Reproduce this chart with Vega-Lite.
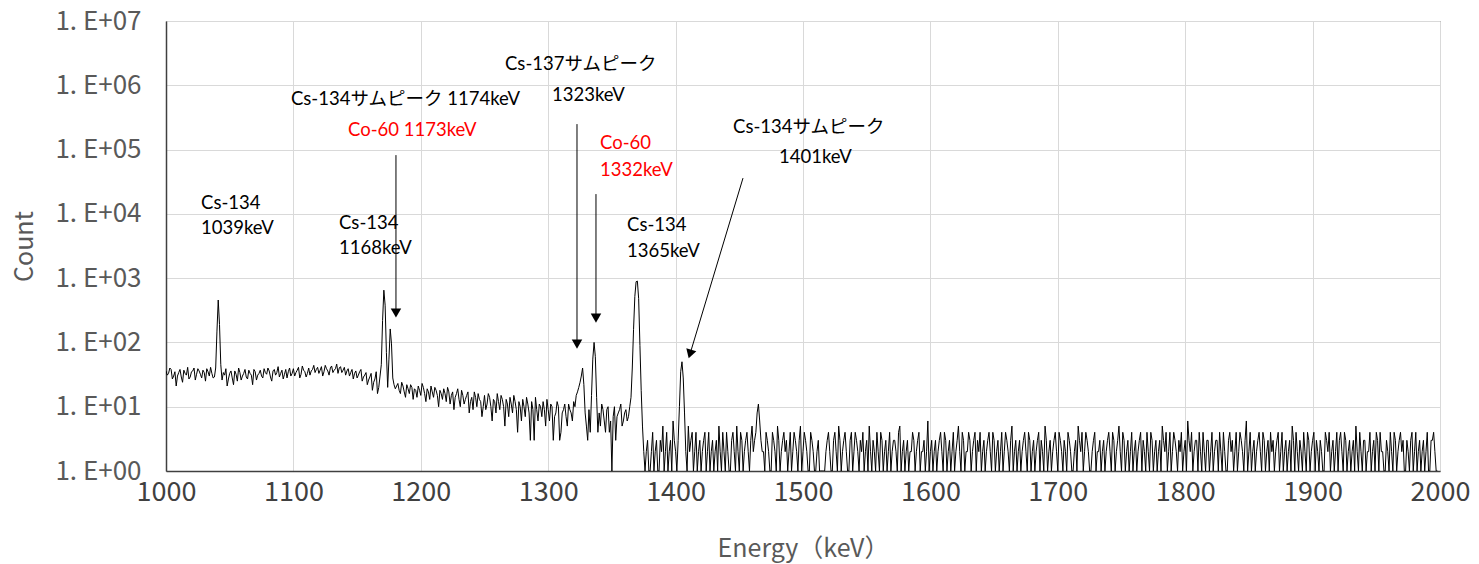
{
  "$schema": "https://vega.github.io/schema/vega-lite/v6.json",
  "width": 1274,
  "height": 450,
  "autosize": {"type": "none"},
  "padding": {"left": 166, "top": 21, "right": 39, "bottom": 93},
  "background": "white",
  "config": {"view": {"stroke": "#595959", "strokeWidth": 1}},
  "datasets": {
    "spectrum": [
      {"e":1000,"c":36},{"e":1002,"c":33},{"e":1004,"c":38},{"e":1006,"c":30},{"e":1008,"c":21},{"e":1010,"c":34},{"e":1012,"c":29},{"e":1014,"c":37},{"e":1016,"c":31},{"e":1018,"c":27},
      {"e":1020,"c":35},{"e":1022,"c":40},{"e":1024,"c":32},{"e":1026,"c":36},{"e":1028,"c":28},{"e":1030,"c":34},{"e":1032,"c":39},{"e":1034,"c":30},{"e":1036,"c":33},{"e":1038,"c":29},
      {"e":1039,"c":40},{"e":1040,"c":150},{"e":1041,"c":457},{"e":1042,"c":190},{"e":1043,"c":45},{"e":1044,"c":26},{"e":1046,"c":31},{"e":1048,"c":21},{"e":1050,"c":33},{"e":1052,"c":28},
      {"e":1054,"c":36},{"e":1056,"c":25},{"e":1058,"c":34},{"e":1060,"c":30},{"e":1062,"c":38},{"e":1064,"c":27},{"e":1066,"c":33},{"e":1068,"c":22},{"e":1070,"c":35},{"e":1072,"c":31},
      {"e":1074,"c":37},{"e":1076,"c":28},{"e":1078,"c":34},{"e":1080,"c":40},{"e":1082,"c":29},{"e":1084,"c":36},{"e":1086,"c":31},{"e":1088,"c":42},{"e":1090,"c":33},{"e":1092,"c":27},
      {"e":1094,"c":38},{"e":1096,"c":35},{"e":1098,"c":30},{"e":1100,"c":39},{"e":1102,"c":34},{"e":1104,"c":41},{"e":1106,"c":32},{"e":1108,"c":37},{"e":1110,"c":29},{"e":1112,"c":40},
      {"e":1114,"c":36},{"e":1116,"c":44},{"e":1118,"c":38},{"e":1120,"c":33},{"e":1122,"c":42},{"e":1124,"c":35},{"e":1126,"c":39},{"e":1128,"c":31},{"e":1130,"c":43},{"e":1132,"c":37},
      {"e":1134,"c":46},{"e":1136,"c":40},{"e":1138,"c":34},{"e":1140,"c":41},{"e":1142,"c":36},{"e":1144,"c":30},{"e":1146,"c":38},{"e":1148,"c":33},{"e":1150,"c":28},{"e":1152,"c":35},
      {"e":1154,"c":25},{"e":1156,"c":31},{"e":1158,"c":22},{"e":1160,"c":29},{"e":1162,"c":18},{"e":1164,"c":27},{"e":1166,"c":16},{"e":1168,"c":30},{"e":1169,"c":45},{"e":1170,"c":220},
      {"e":1171,"c":650},{"e":1172,"c":380},{"e":1173,"c":70},{"e":1174,"c":20},{"e":1175,"c":55},{"e":1176,"c":162},{"e":1177,"c":95},{"e":1178,"c":28},{"e":1179,"c":22},{"e":1180,"c":19},
      {"e":1182,"c":23},{"e":1184,"c":16},{"e":1186,"c":21},{"e":1188,"c":14},{"e":1190,"c":19},{"e":1192,"c":22},{"e":1194,"c":13},{"e":1196,"c":18},{"e":1198,"c":21},{"e":1200,"c":15},
      {"e":1202,"c":20},{"e":1204,"c":12},{"e":1206,"c":17},{"e":1208,"c":21},{"e":1210,"c":14},{"e":1212,"c":18},{"e":1214,"c":10},{"e":1216,"c":16},{"e":1218,"c":19},{"e":1220,"c":12},
      {"e":1222,"c":17},{"e":1224,"c":15},{"e":1226,"c":9},{"e":1228,"c":16},{"e":1230,"c":13},{"e":1232,"c":18},{"e":1234,"c":11},{"e":1236,"c":15},{"e":1238,"c":8},{"e":1240,"c":14},
      {"e":1242,"c":17},{"e":1244,"c":10},{"e":1246,"c":13},{"e":1248,"c":7},{"e":1250,"c":15},{"e":1252,"c":11},{"e":1254,"c":14},{"e":1256,"c":6},{"e":1258,"c":12},{"e":1260,"c":16},
      {"e":1262,"c":9},{"e":1264,"c":13},{"e":1266,"c":5},{"e":1268,"c":11},{"e":1270,"c":14},{"e":1272,"c":8},{"e":1274,"c":12},{"e":1276,"c":4},{"e":1278,"c":10},{"e":1280,"c":13},
      {"e":1282,"c":7},{"e":1284,"c":11},{"e":1286,"c":3},{"e":1288,"c":9},{"e":1290,"c":14},{"e":1292,"c":6},{"e":1294,"c":10},{"e":1296,"c":12},{"e":1298,"c":5},{"e":1300,"c":9},
      {"e":1302,"c":11},{"e":1304,"c":3},{"e":1306,"c":8},{"e":1308,"c":10},{"e":1310,"c":4},{"e":1312,"c":9},{"e":1314,"c":7},{"e":1316,"c":11},{"e":1318,"c":8},{"e":1320,"c":12},
      {"e":1322,"c":15},{"e":1324,"c":20},{"e":1326,"c":30},{"e":1327,"c":40},{"e":1328,"c":22},{"e":1329,"c":8},{"e":1330,"c":5},{"e":1332,"c":9},{"e":1333,"c":4},{"e":1334,"c":15},
      {"e":1335,"c":55},{"e":1336,"c":100},{"e":1337,"c":60},{"e":1338,"c":14},{"e":1339,"c":4},{"e":1340,"c":8},{"e":1342,"c":11},{"e":1344,"c":6},{"e":1346,"c":9},{"e":1348,"c":4},
      {"e":1350,"c":1},{"e":1352,"c":10},{"e":1354,"c":7},{"e":1356,"c":9},{"e":1358,"c":5},{"e":1360,"c":8},{"e":1362,"c":6},{"e":1364,"c":10},{"e":1365,"c":14},{"e":1366,"c":40},
      {"e":1367,"c":160},{"e":1368,"c":520},{"e":1369,"c":880},{"e":1370,"c":900},{"e":1371,"c":480},{"e":1372,"c":90},{"e":1373,"c":18},{"e":1374,"c":5},{"e":1375,"c":2},{"e":1376,"c":1},
      {"e":1378,"c":3},{"e":1380,"c":1},{"e":1382,"c":4},{"e":1384,"c":2},{"e":1386,"c":1},{"e":1388,"c":3},{"e":1390,"c":5},{"e":1392,"c":2},{"e":1394,"c":1},{"e":1396,"c":3},
      {"e":1398,"c":6},{"e":1400,"c":2},{"e":1402,"c":3},{"e":1403,"c":10},{"e":1404,"c":35},{"e":1405,"c":50},{"e":1406,"c":28},{"e":1407,"c":8},{"e":1408,"c":2},{"e":1410,"c":5},
      {"e":1412,"c":3},{"e":1414,"c":1},{"e":1416,"c":4},{"e":1418,"c":2},{"e":1420,"c":1},{"e":1422,"c":3},{"e":1424,"c":1},{"e":1426,"c":4},{"e":1428,"c":2},{"e":1430,"c":1},
      {"e":1432,"c":3},{"e":1434,"c":5},{"e":1436,"c":1},{"e":1438,"c":2},{"e":1440,"c":4},{"e":1442,"c":1},{"e":1444,"c":3},{"e":1446,"c":2},{"e":1448,"c":5},{"e":1450,"c":1},
      {"e":1452,"c":3},{"e":1454,"c":2},{"e":1456,"c":4},{"e":1458,"c":1},{"e":1460,"c":5},{"e":1462,"c":3},{"e":1464,"c":8},{"e":1465,"c":11},{"e":1466,"c":6},{"e":1468,"c":2},
      {"e":1470,"c":1},{"e":1472,"c":3},{"e":1474,"c":1},{"e":1476,"c":4},{"e":1478,"c":2},{"e":1480,"c":5},{"e":1482,"c":1},{"e":1484,"c":3},{"e":1486,"c":2},{"e":1488,"c":1},
      {"e":1490,"c":4},{"e":1492,"c":2},{"e":1494,"c":3},{"e":1496,"c":1},{"e":1498,"c":5},{"e":1500,"c":2},{"e":1502,"c":3},{"e":1504,"c":1},{"e":1506,"c":4},{"e":1508,"c":2},
      {"e":1510,"c":1},{"e":1512,"c":3},{"e":1514,"c":1},{"e":1516,"c":1},{"e":1518,"c":2},{"e":1520,"c":4},{"e":1522,"c":1},{"e":1524,"c":3},{"e":1526,"c":2},{"e":1528,"c":5},
      {"e":1530,"c":1},{"e":1532,"c":3},{"e":1534,"c":2},{"e":1536,"c":1},{"e":1538,"c":4},{"e":1540,"c":2},{"e":1542,"c":3},{"e":1544,"c":1},{"e":1546,"c":2},{"e":1548,"c":1},
      {"e":1550,"c":3},{"e":1552,"c":5},{"e":1554,"c":1},{"e":1556,"c":2},{"e":1558,"c":4},{"e":1560,"c":1},{"e":1562,"c":3},{"e":1564,"c":2},{"e":1566,"c":1},{"e":1568,"c":4},
      {"e":1570,"c":2},{"e":1572,"c":3},{"e":1574,"c":1},{"e":1576,"c":5},{"e":1578,"c":2},{"e":1580,"c":1},{"e":1582,"c":3},{"e":1584,"c":2},{"e":1586,"c":4},{"e":1588,"c":1},
      {"e":1590,"c":3},{"e":1592,"c":1},{"e":1594,"c":2},{"e":1596,"c":1},{"e":1598,"c":6},{"e":1600,"c":2},{"e":1602,"c":1},{"e":1604,"c":3},{"e":1606,"c":2},{"e":1608,"c":4},
      {"e":1610,"c":1},{"e":1612,"c":3},{"e":1614,"c":2},{"e":1616,"c":1},{"e":1618,"c":4},{"e":1620,"c":2},{"e":1622,"c":5},{"e":1624,"c":1},{"e":1626,"c":3},{"e":1628,"c":2},
      {"e":1630,"c":4},{"e":1632,"c":1},{"e":1634,"c":3},{"e":1636,"c":1},{"e":1638,"c":2},{"e":1640,"c":1},{"e":1642,"c":3},{"e":1644,"c":2},{"e":1646,"c":4},{"e":1648,"c":1},
      {"e":1650,"c":3},{"e":1652,"c":2},{"e":1654,"c":1},{"e":1656,"c":4},{"e":1658,"c":2},{"e":1660,"c":3},{"e":1662,"c":1},{"e":1664,"c":5},{"e":1666,"c":2},{"e":1668,"c":1},
      {"e":1670,"c":3},{"e":1672,"c":2},{"e":1674,"c":4},{"e":1676,"c":1},{"e":1678,"c":3},{"e":1680,"c":2},{"e":1682,"c":1},{"e":1684,"c":3},{"e":1686,"c":1},{"e":1688,"c":2},
      {"e":1690,"c":5},{"e":1692,"c":1},{"e":1694,"c":3},{"e":1696,"c":2},{"e":1698,"c":4},{"e":1700,"c":1},{"e":1702,"c":3},{"e":1704,"c":1},{"e":1706,"c":2},{"e":1708,"c":4},
      {"e":1710,"c":2},{"e":1712,"c":1},{"e":1714,"c":3},{"e":1716,"c":5},{"e":1718,"c":2},{"e":1720,"c":1},{"e":1722,"c":4},{"e":1724,"c":2},{"e":1726,"c":1},{"e":1728,"c":3},
      {"e":1730,"c":1},{"e":1732,"c":2},{"e":1734,"c":1},{"e":1736,"c":3},{"e":1738,"c":2},{"e":1740,"c":4},{"e":1742,"c":1},{"e":1744,"c":3},{"e":1746,"c":2},{"e":1748,"c":5},
      {"e":1750,"c":1},{"e":1752,"c":3},{"e":1754,"c":2},{"e":1756,"c":1},{"e":1758,"c":4},{"e":1760,"c":2},{"e":1762,"c":1},{"e":1764,"c":3},{"e":1766,"c":1},{"e":1768,"c":2},
      {"e":1770,"c":4},{"e":1772,"c":1},{"e":1774,"c":3},{"e":1776,"c":2},{"e":1778,"c":1},{"e":1780,"c":3},{"e":1782,"c":5},{"e":1784,"c":2},{"e":1786,"c":1},{"e":1788,"c":4},
      {"e":1790,"c":2},{"e":1792,"c":3},{"e":1794,"c":1},{"e":1796,"c":2},{"e":1798,"c":1},{"e":1800,"c":3},{"e":1802,"c":6},{"e":1804,"c":2},{"e":1806,"c":1},{"e":1808,"c":3},
      {"e":1810,"c":1},{"e":1812,"c":2},{"e":1814,"c":4},{"e":1816,"c":1},{"e":1818,"c":3},{"e":1820,"c":2},{"e":1822,"c":1},{"e":1824,"c":3},{"e":1826,"c":1},{"e":1828,"c":2},
      {"e":1830,"c":4},{"e":1832,"c":1},{"e":1834,"c":3},{"e":1836,"c":2},{"e":1838,"c":1},{"e":1840,"c":4},{"e":1842,"c":2},{"e":1844,"c":3},{"e":1846,"c":1},{"e":1848,"c":6},
      {"e":1850,"c":2},{"e":1852,"c":1},{"e":1854,"c":3},{"e":1856,"c":2},{"e":1858,"c":4},{"e":1860,"c":1},{"e":1862,"c":3},{"e":1864,"c":2},{"e":1866,"c":1},{"e":1868,"c":2},
      {"e":1870,"c":1},{"e":1872,"c":3},{"e":1874,"c":1},{"e":1876,"c":4},{"e":1878,"c":2},{"e":1880,"c":1},{"e":1882,"c":3},{"e":1884,"c":5},{"e":1886,"c":1},{"e":1888,"c":2},
      {"e":1890,"c":3},{"e":1892,"c":1},{"e":1894,"c":2},{"e":1896,"c":4},{"e":1898,"c":1},{"e":1900,"c":3},{"e":1902,"c":1},{"e":1904,"c":2},{"e":1906,"c":3},{"e":1908,"c":1},
      {"e":1910,"c":4},{"e":1912,"c":2},{"e":1914,"c":1},{"e":1916,"c":3},{"e":1918,"c":2},{"e":1920,"c":1},{"e":1922,"c":4},{"e":1924,"c":1},{"e":1926,"c":3},{"e":1928,"c":2},
      {"e":1930,"c":1},{"e":1932,"c":3},{"e":1934,"c":5},{"e":1936,"c":1},{"e":1938,"c":2},{"e":1940,"c":3},{"e":1942,"c":1},{"e":1944,"c":2},{"e":1946,"c":1},{"e":1948,"c":3},
      {"e":1950,"c":4},{"e":1952,"c":1},{"e":1954,"c":2},{"e":1956,"c":1},{"e":1958,"c":3},{"e":1960,"c":1},{"e":1962,"c":2},{"e":1964,"c":4},{"e":1966,"c":1},{"e":1968,"c":3},
      {"e":1970,"c":2},{"e":1972,"c":1},{"e":1974,"c":3},{"e":1976,"c":1},{"e":1978,"c":4},{"e":1980,"c":2},{"e":1982,"c":1},{"e":1984,"c":3},{"e":1986,"c":2},{"e":1988,"c":1},
      {"e":1990,"c":4},{"e":1992,"c":1},{"e":1994,"c":3},{"e":1996,"c":2},{"e":1998,"c":1},
      {"e":1001,"c":31},{"e":1003,"c":40},{"e":1005,"c":27},{"e":1007,"c":35},{"e":1009,"c":30},{"e":1011,"c":38},{"e":1013,"c":24},{"e":1015,"c":33},{"e":1017,"c":41},{"e":1019,"c":29},
      {"e":1021,"c":36},{"e":1023,"c":26},{"e":1025,"c":39},{"e":1027,"c":32},{"e":1029,"c":37},{"e":1031,"c":25},{"e":1033,"c":35},{"e":1035,"c":41},{"e":1037,"c":28},
      {"e":1045,"c":34},{"e":1047,"c":39},{"e":1049,"c":27},{"e":1051,"c":36},{"e":1053,"c":22},{"e":1055,"c":32},{"e":1057,"c":40},{"e":1059,"c":26},{"e":1061,"c":33},{"e":1063,"c":29},
      {"e":1065,"c":37},{"e":1067,"c":31},{"e":1069,"c":38},{"e":1071,"c":26},{"e":1073,"c":33},{"e":1075,"c":30},{"e":1077,"c":39},{"e":1079,"c":32},{"e":1081,"c":36},{"e":1083,"c":25},
      {"e":1085,"c":38},{"e":1087,"c":34},{"e":1089,"c":29},{"e":1091,"c":37},{"e":1093,"c":32},{"e":1095,"c":28},{"e":1097,"c":40},{"e":1099,"c":33},{"e":1101,"c":30},{"e":1103,"c":37},
      {"e":1105,"c":28},{"e":1107,"c":43},{"e":1109,"c":35},{"e":1111,"c":33},{"e":1113,"c":31},{"e":1115,"c":38},{"e":1117,"c":34},{"e":1119,"c":41},{"e":1121,"c":37},{"e":1123,"c":30},
      {"e":1125,"c":44},{"e":1127,"c":36},{"e":1129,"c":40},{"e":1131,"c":34},{"e":1133,"c":39},{"e":1135,"c":33},{"e":1137,"c":42},{"e":1139,"c":37},{"e":1141,"c":31},{"e":1143,"c":39},
      {"e":1145,"c":34},{"e":1147,"c":27},{"e":1149,"c":36},{"e":1151,"c":31},{"e":1153,"c":38},{"e":1155,"c":29},{"e":1157,"c":34},{"e":1159,"c":26},{"e":1161,"c":33},{"e":1163,"c":24},
      {"e":1165,"c":35},{"e":1167,"c":20},
      {"e":1181,"c":21},{"e":1183,"c":18},{"e":1185,"c":24},{"e":1187,"c":17},{"e":1189,"c":22},{"e":1191,"c":16},{"e":1193,"c":20},{"e":1195,"c":19},{"e":1197,"c":14},{"e":1199,"c":18},
      {"e":1201,"c":23},{"e":1203,"c":16},{"e":1205,"c":19},{"e":1207,"c":13},{"e":1209,"c":17},{"e":1211,"c":20},{"e":1213,"c":15},{"e":1215,"c":18},{"e":1217,"c":13},{"e":1219,"c":16},
      {"e":1221,"c":20},{"e":1223,"c":11},{"e":1225,"c":17},{"e":1227,"c":14},{"e":1229,"c":19},{"e":1231,"c":10},{"e":1233,"c":15},{"e":1235,"c":13},{"e":1237,"c":17},{"e":1239,"c":12},
      {"e":1241,"c":9},{"e":1243,"c":14},{"e":1245,"c":16},{"e":1247,"c":12},{"e":1249,"c":10},{"e":1251,"c":9},{"e":1253,"c":16},{"e":1255,"c":10},{"e":1257,"c":13},{"e":1259,"c":8},
      {"e":1261,"c":12},{"e":1263,"c":15},{"e":1265,"c":10},{"e":1267,"c":13},{"e":1269,"c":7},{"e":1271,"c":11},{"e":1273,"c":15},{"e":1275,"c":9},{"e":1277,"c":12},{"e":1279,"c":6},
      {"e":1281,"c":10},{"e":1283,"c":14},{"e":1285,"c":8},{"e":1287,"c":12},{"e":1289,"c":3},{"e":1291,"c":9},{"e":1293,"c":11},{"e":1295,"c":7},{"e":1297,"c":9},{"e":1299,"c":13},
      {"e":1301,"c":6},{"e":1303,"c":10},{"e":1305,"c":7},{"e":1307,"c":12},{"e":1309,"c":3},{"e":1311,"c":8},{"e":1313,"c":11},{"e":1315,"c":5},{"e":1317,"c":9},{"e":1319,"c":6},
      {"e":1321,"c":10},{"e":1323,"c":17},{"e":1325,"c":24},{"e":1331,"c":3},
      {"e":1341,"c":5},{"e":1343,"c":9},{"e":1345,"c":4},{"e":1347,"c":10},{"e":1349,"c":6},{"e":1351,"c":7},{"e":1353,"c":3},{"e":1355,"c":8},{"e":1357,"c":11},{"e":1359,"c":6},
      {"e":1361,"c":9},{"e":1363,"c":7},
      {"e":1377,"c":2},{"e":1379,"c":1},{"e":1381,"c":2},{"e":1383,"c":1},{"e":1385,"c":3},{"e":1387,"c":1},{"e":1389,"c":2},{"e":1391,"c":1},{"e":1393,"c":4},{"e":1395,"c":2},
      {"e":1397,"c":1},{"e":1399,"c":3},{"e":1401,"c":1},{"e":1409,"c":1},{"e":1411,"c":2},{"e":1413,"c":4},{"e":1415,"c":2},{"e":1417,"c":1},{"e":1419,"c":3},{"e":1421,"c":2},
      {"e":1423,"c":4},{"e":1425,"c":2},{"e":1427,"c":1},{"e":1429,"c":3},{"e":1431,"c":2},{"e":1433,"c":1},{"e":1435,"c":2},{"e":1437,"c":4},{"e":1439,"c":1},{"e":1441,"c":2},
      {"e":1443,"c":1},{"e":1445,"c":4},{"e":1447,"c":1},{"e":1449,"c":2},{"e":1451,"c":4},{"e":1453,"c":1},{"e":1455,"c":3},{"e":1457,"c":2},{"e":1459,"c":3},{"e":1461,"c":2},
      {"e":1463,"c":4},{"e":1467,"c":3},{"e":1469,"c":2},{"e":1471,"c":4},{"e":1473,"c":2},{"e":1475,"c":1},{"e":1477,"c":3},{"e":1479,"c":1},{"e":1481,"c":3},{"e":1483,"c":2},
      {"e":1485,"c":4},{"e":1487,"c":3},{"e":1489,"c":2},{"e":1491,"c":1},{"e":1493,"c":4},{"e":1495,"c":2},{"e":1497,"c":3},{"e":1499,"c":1},{"e":1501,"c":4},{"e":1503,"c":2},
      {"e":1505,"c":1},{"e":1507,"c":3},{"e":1509,"c":1},{"e":1511,"c":2},{"e":1513,"c":1},{"e":1515,"c":1},{"e":1517,"c":1},{"e":1519,"c":3},{"e":1521,"c":2},{"e":1523,"c":1},
      {"e":1525,"c":4},{"e":1527,"c":1},{"e":1529,"c":3},{"e":1531,"c":2},{"e":1533,"c":4},{"e":1535,"c":1},{"e":1537,"c":3},{"e":1539,"c":1},{"e":1541,"c":4},{"e":1543,"c":2},
      {"e":1545,"c":3},{"e":1547,"c":4},{"e":1549,"c":2},{"e":1551,"c":1},{"e":1553,"c":2},{"e":1555,"c":3},{"e":1557,"c":1},{"e":1559,"c":2},{"e":1561,"c":4},{"e":1563,"c":1},
      {"e":1565,"c":3},{"e":1567,"c":2},{"e":1569,"c":1},{"e":1571,"c":3},{"e":1573,"c":2},{"e":1575,"c":4},{"e":1577,"c":1},{"e":1579,"c":3},{"e":1581,"c":2},{"e":1583,"c":1},
      {"e":1585,"c":2},{"e":1587,"c":3},{"e":1589,"c":2},{"e":1591,"c":4},{"e":1593,"c":2},{"e":1595,"c":3},{"e":1597,"c":2},{"e":1599,"c":1},{"e":1601,"c":3},{"e":1603,"c":2},
      {"e":1605,"c":1},{"e":1607,"c":3},{"e":1609,"c":2},{"e":1611,"c":4},{"e":1613,"c":1},{"e":1615,"c":3},{"e":1617,"c":2},{"e":1619,"c":1},{"e":1621,"c":3},{"e":1623,"c":2},
      {"e":1625,"c":4},{"e":1627,"c":1},{"e":1629,"c":2},{"e":1631,"c":3},{"e":1633,"c":2},{"e":1635,"c":4},{"e":1637,"c":3},{"e":1639,"c":4},{"e":1641,"c":2},{"e":1643,"c":1},
      {"e":1645,"c":3},{"e":1647,"c":2},{"e":1649,"c":4},{"e":1651,"c":1},{"e":1653,"c":3},{"e":1655,"c":2},{"e":1657,"c":1},{"e":1659,"c":4},{"e":1661,"c":2},{"e":1663,"c":3},
      {"e":1665,"c":1},{"e":1667,"c":3},{"e":1669,"c":2},{"e":1671,"c":1},{"e":1673,"c":3},{"e":1675,"c":2},{"e":1677,"c":4},{"e":1679,"c":1},{"e":1681,"c":3},{"e":1683,"c":2},
      {"e":1685,"c":4},{"e":1687,"c":3},{"e":1689,"c":1},{"e":1691,"c":3},{"e":1693,"c":2},{"e":1695,"c":1},{"e":1697,"c":3},{"e":1699,"c":2},{"e":1701,"c":4},{"e":1703,"c":2},
      {"e":1705,"c":3},{"e":1707,"c":1},{"e":1709,"c":3},{"e":1711,"c":1},{"e":1713,"c":2},{"e":1715,"c":1},{"e":1717,"c":3},{"e":1719,"c":4},{"e":1721,"c":2},{"e":1723,"c":3},
      {"e":1725,"c":1},{"e":1727,"c":2},{"e":1729,"c":4},{"e":1731,"c":2},{"e":1733,"c":3},{"e":1735,"c":2},{"e":1737,"c":1},{"e":1739,"c":3},{"e":1741,"c":2},{"e":1743,"c":4},
      {"e":1745,"c":1},{"e":1747,"c":3},{"e":1749,"c":2},{"e":1751,"c":4},{"e":1753,"c":1},{"e":1755,"c":3},{"e":1757,"c":2},{"e":1759,"c":1},{"e":1761,"c":3},{"e":1763,"c":2},
      {"e":1765,"c":4},{"e":1767,"c":3},{"e":1769,"c":1},{"e":1771,"c":2},{"e":1773,"c":4},{"e":1775,"c":1},{"e":1777,"c":3},{"e":1779,"c":2},{"e":1781,"c":1},{"e":1783,"c":3},
      {"e":1785,"c":4},{"e":1787,"c":2},{"e":1789,"c":1},{"e":1791,"c":4},{"e":1793,"c":2},{"e":1795,"c":3},{"e":1797,"c":4},{"e":1799,"c":2},{"e":1801,"c":1},{"e":1803,"c":3},
      {"e":1805,"c":4},{"e":1807,"c":2},{"e":1809,"c":3},{"e":1811,"c":4},{"e":1813,"c":1},{"e":1815,"c":2},{"e":1817,"c":3},{"e":1819,"c":1},{"e":1821,"c":4},{"e":1823,"c":2},
      {"e":1825,"c":3},{"e":1827,"c":4},{"e":1829,"c":1},{"e":1831,"c":2},{"e":1833,"c":1},{"e":1835,"c":4},{"e":1837,"c":3},{"e":1839,"c":2},{"e":1841,"c":1},{"e":1843,"c":4},
      {"e":1845,"c":2},{"e":1847,"c":3},{"e":1849,"c":1},{"e":1851,"c":4},{"e":1853,"c":2},{"e":1855,"c":1},{"e":1857,"c":3},{"e":1859,"c":2},{"e":1861,"c":4},{"e":1863,"c":1},
      {"e":1865,"c":3},{"e":1867,"c":4},{"e":1869,"c":3},{"e":1871,"c":2},{"e":1873,"c":4},{"e":1875,"c":2},{"e":1877,"c":1},{"e":1879,"c":3},{"e":1881,"c":2},{"e":1883,"c":1},
      {"e":1885,"c":3},{"e":1887,"c":4},{"e":1889,"c":1},{"e":1891,"c":2},{"e":1893,"c":4},{"e":1895,"c":1},{"e":1897,"c":3},{"e":1899,"c":2},{"e":1901,"c":4},{"e":1903,"c":3},
      {"e":1905,"c":1},{"e":1907,"c":2},{"e":1909,"c":1},{"e":1911,"c":3},{"e":1913,"c":4},{"e":1915,"c":2},{"e":1917,"c":1},{"e":1919,"c":4},{"e":1921,"c":3},{"e":1923,"c":2},
      {"e":1925,"c":4},{"e":1927,"c":1},{"e":1929,"c":3},{"e":1931,"c":2},{"e":1933,"c":1},{"e":1935,"c":2},{"e":1937,"c":4},{"e":1939,"c":1},{"e":1941,"c":3},{"e":1943,"c":2},
      {"e":1945,"c":4},{"e":1947,"c":2},{"e":1949,"c":1},{"e":1951,"c":3},{"e":1953,"c":4},{"e":1955,"c":2},{"e":1957,"c":1},{"e":1959,"c":2},{"e":1961,"c":4},{"e":1963,"c":1},
      {"e":1965,"c":3},{"e":1967,"c":2},{"e":1969,"c":4},{"e":1971,"c":3},{"e":1973,"c":1},{"e":1975,"c":2},{"e":1977,"c":3},{"e":1979,"c":1},{"e":1981,"c":4},{"e":1983,"c":2},
      {"e":1985,"c":1},{"e":1987,"c":3},{"e":1989,"c":2},{"e":1991,"c":1},{"e":1993,"c":3},{"e":1995,"c":4},{"e":1997,"c":1}
    ],
    "arrows": [
      {"id":1,"e":1180.5,"c":287,"e0":1180.5,"c0":82000},
      {"id":2,"e":1322.6,"c":94,"e0":1322.6,"c0":249000},
      {"id":3,"e":1337.5,"c":239,"e0":1337.5,"c0":20300},
      {"id":4,"e":1411.3,"c":66,"e0":1452.9,"c0":36000}
    ],
    "labels": [
      {"e":1027.5,"c":14700,"t":"Cs-134","g":"other"},
      {"e":1027.5,"c":6010,"t":"1039keV","g":"other"},
      {"e":1098.1,"c":610000,"t":"Cs-134サムピーク 1174keV","g":"other"},
      {"e":1142.9,"c":201000,"t":"Co-60 1173keV","g":"co60"},
      {"e":1135.8,"c":7190,"t":"Cs-134","g":"other"},
      {"e":1135.8,"c":2940,"t":"1168keV","g":"other"},
      {"e":1266.1,"c":2140000,"t":"Cs-137サムピーク","g":"other"},
      {"e":1303.0,"c":705000,"t":"1323keV","g":"other"},
      {"e":1340.7,"c":126000,"t":"Co-60","g":"co60"},
      {"e":1340.7,"c":48000,"t":"1332keV","g":"co60"},
      {"e":1361.9,"c":6700,"t":"Cs-134","g":"other"},
      {"e":1361.9,"c":2640,"t":"1365keV","g":"other"},
      {"e":1445.1,"c":224000,"t":"Cs-134サムピーク","g":"other"},
      {"e":1481.2,"c":76400,"t":"1401keV","g":"other"}
    ]
  },
  "encoding": {
    "x": {
      "field": "e", "type": "quantitative",
      "scale": {"domain": [1000, 2000], "nice": false, "zero": false},
      "axis": {
        "title": "Energy（keV）",
        "values": [1000,1100,1200,1300,1400,1500,1600,1700,1800,1900,2000],
        "format": "d",
        "ticks": false,
        "labelFlush": false,
        "labelOverlap": false,
        "domainColor": "#404040", "domainWidth": 1.5,
        "gridColor": "#d9d9d9", "gridWidth": 1,
        "labelFont": "Noto Sans CJK JP", "labelFontSize": 27, "labelColor": "#404040",
        "labelPadding": 8,
        "titleFont": "Noto Sans CJK JP", "titleFontSize": 25, "titleFontWeight": "normal", "titleColor": "#595959",
        "titlePadding": 31
      }
    },
    "y": {
      "field": "c", "type": "quantitative",
      "scale": {"type": "log", "domain": [1, 10000000], "nice": false},
      "axis": {
        "title": "Count",
        "values": [1,10,100,1000,10000,100000,1000000,10000000],
        "labelExpr": "'1. E+0' + round(log(datum.value)/LN10)",
        "ticks": false,
        "labelFlush": false,
        "labelOverlap": false,
        "domainColor": "#404040", "domainWidth": 1.5,
        "gridColor": "#d9d9d9", "gridWidth": 1,
        "labelFont": "Noto Sans CJK JP", "labelFontSize": 26, "labelColor": "#595959",
        "labelPadding": 25,
        "titleFont": "Noto Sans CJK JP", "titleFontSize": 25, "titleFontWeight": "normal", "titleColor": "#595959",
        "titlePadding": 17
      }
    }
  },
  "layer": [
    {
      "data": {"name": "spectrum"},
      "mark": {"type": "line", "color": "black", "strokeWidth": 1, "clip": true},
      "encoding": {}
    },
    {
      "data": {"name": "arrows"},
      "mark": {"type": "rule", "color": "black", "strokeWidth": 1},
      "encoding": {"x2": {"field": "e0"}, "y2": {"field": "c0"}}
    },
    {
      "data": {"name": "arrows"},
      "transform": [{"filter": "datum.id < 4"}],
      "mark": {"type": "point", "shape": "triangle-down", "filled": true, "color": "black", "size": 110, "opacity": 1},
      "encoding": {}
    },
    {
      "data": {"name": "arrows"},
      "transform": [{"filter": "datum.id == 4"}],
      "mark": {"type": "point", "shape": "triangle-down", "filled": true, "color": "black", "size": 110, "opacity": 1, "angle": 17},
      "encoding": {}
    },
    {
      "data": {"name": "labels"},
      "mark": {"type": "text", "align": "left", "baseline": "middle", "font": "Lato, 'Noto Sans CJK JP'", "fontSize": 18.5},
      "encoding": {
        "text": {"field": "t"},
        "color": {"field": "g", "type": "nominal", "scale": {"domain": ["other", "co60"], "range": ["#000000", "#ff0000"]}, "legend": null}
      }
    }
  ]
}
